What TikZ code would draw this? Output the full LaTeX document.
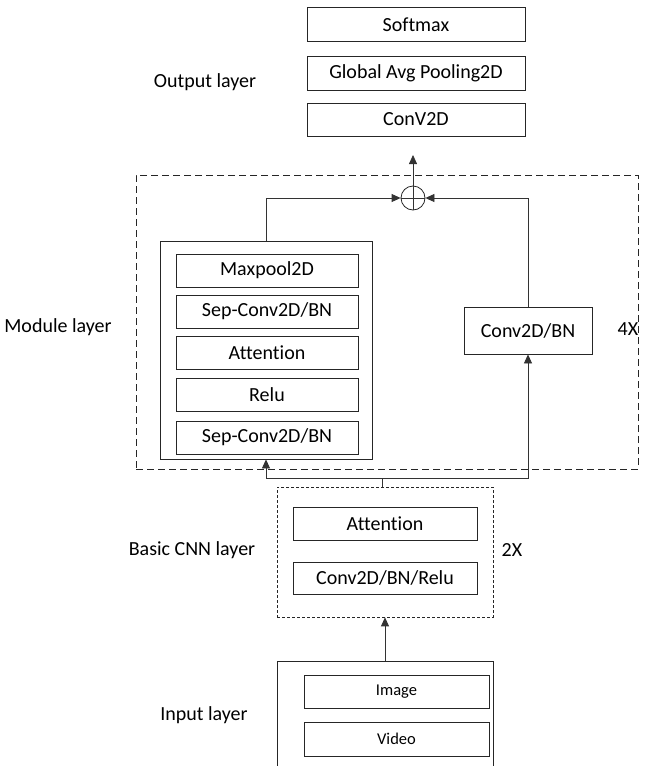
\documentclass[tikz,border=0pt]{standalone}
\usepackage{fontspec}
\setmainfont{Carlito}[Ligatures=NoCommon]
\usetikzlibrary{arrows.meta}
\begin{document}
\begin{tikzpicture}[x=1pt,y=-1pt,
  blk/.style={draw=black!85, line width=0.8pt, rectangle, inner sep=0pt, font=\fontsize{20}{23}\selectfont},
  smallblk/.style={blk, font=\fontsize{16.5}{19}\selectfont},
  lbl/.style={inner sep=0pt, font=\fontsize{20}{23}\selectfont},
  conn/.style={draw=black!80, line width=0.8pt},
  arr/.style={conn, -{Triangle[length=9pt,width=8pt]}},
  bigdash/.style={draw=black!85, line width=0.8pt, dash pattern=on 7pt off 4pt},
  smalldash/.style={draw=black!85, line width=0.7pt, dash pattern=on 3pt off 2pt},
]
\useasboundingbox (0,0) rectangle (658,766);

% Output layer
\node[blk, minimum width=218pt, minimum height=34pt] (softmax) at (416,24.5) {Softmax};
\node[blk, minimum width=218pt, minimum height=34pt] (gap) at (416,73) {Global Avg Pooling2D};
\node[blk, minimum width=218pt, minimum height=33pt] (conv) at (416,119.5) {ConV2D};
\node[lbl] (outlbl) at (205,82) {Output layer};

% Module layer
\node[bigdash, rectangle, minimum width=502pt, minimum height=294pt] (module) at (387,322) {};
\node[lbl] (modlbl) at (58,327) {Module layer};
\node[lbl] (fourx) at (628,329) {4X};

\node[circle, draw=black!85, line width=0.8pt, minimum size=24pt, inner sep=0pt] (plus) at (413,198) {};
\draw[conn] (plus.north) -- (plus.south);
\draw[conn] (plus.west) -- (plus.east);
\coordinate (outtip) at (413,155);
\draw[arr] (plus.north) -- (outtip);

\node[draw=black!85, line width=0.8pt, rectangle, minimum width=212pt, minimum height=218pt] (leftbox) at (266,350) {};
\node[blk, minimum width=182pt, minimum height=33pt] (maxpool) at (267,270.5) {Maxpool2D};
\node[blk, minimum width=182pt, minimum height=33pt] (sep1) at (267,311.5) {Sep-Conv2D/BN};
\node[blk, minimum width=182pt, minimum height=33pt] (att1) at (267,352.5) {Attention};
\node[blk, minimum width=182pt, minimum height=33pt] (relu) at (267,394.5) {Relu};
\node[blk, minimum width=182pt, minimum height=33pt] (sep2) at (267,437.5) {Sep-Conv2D/BN};

\node[blk, minimum width=128pt, minimum height=47pt] (convbn) at (528,330.5) {Conv2D/BN};

\draw[arr] (leftbox.north) |- (plus.west);
\draw[arr] (convbn.north) |- (plus.east);

% Basic CNN layer
\node[smalldash, rectangle, minimum width=216pt, minimum height=130pt] (basic) at (385,552) {};
\node[blk, minimum width=184pt, minimum height=33pt] (att2) at (385,523.5) {Attention};
\node[blk, minimum width=184pt, minimum height=32pt] (cbr) at (385,578) {Conv2D/BN/Relu};
\node[lbl] (basiclbl) at (192,550) {Basic CNN layer};
\node[lbl] (twox) at (512,550) {2X};

\coordinate (junc) at (382,478);
\draw[conn] (382,487) -- (junc);
\draw[arr] (junc) -| (leftbox.south);
\draw[arr] (junc) -| (convbn.south);

% Input layer
\coordinate (inTL) at (277,661);
\coordinate (inTR) at (493,661);
\coordinate (inTop) at (385,661);
\draw[conn, draw=black!85] (277,766) -- (inTL) -- (inTR) -- (493,766);
\draw[arr] (inTop) -- (basic.south);
\node[smallblk, minimum width=185pt, minimum height=33pt] (image) at (396.5,691.5) {Image};
\node[smallblk, minimum width=185pt, minimum height=34pt] (video) at (396.5,739) {Video};
\node[lbl] (inlbl) at (204,715) {Input layer};
\end{tikzpicture}
\end{document}
